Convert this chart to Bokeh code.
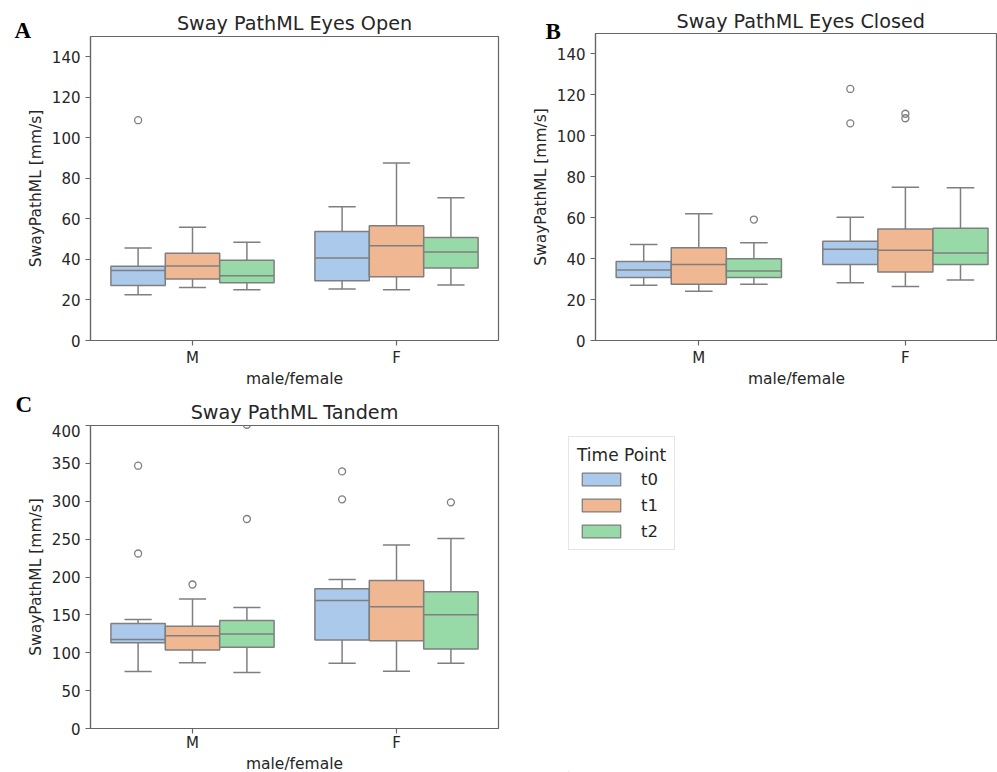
from bokeh.plotting import figure
from bokeh.models import (ColumnDataSource, Range1d, FixedTicker, Label, Legend,
                          LegendItem, Title)
from bokeh.transform import dodge
from bokeh.layouts import column, row
from bokeh.embed import file_html
from bokeh.resources import INLINE

# ---------------- data ----------------
sexes = ["M", "F"]
time_points = ["t0", "t1", "t2"]
colors = ["#abc9ea", "#efb792", "#98daa7"]

# Eyes Open: per time point -> [M, F]
open_low = [[22.6, 25.4], [26.2, 25.1], [25.1, 27.4]]
open_q1 = [[27.1, 29.5], [30.3, 31.5], [28.5, 35.8]]
open_med = [[34.5, 40.7], [36.8, 46.8], [32.0, 43.7]]
open_q3 = [[36.6, 53.8], [43.0, 56.6], [39.6, 50.8]]
open_high = [[45.7, 66.0], [55.9, 87.6], [48.5, 70.4]]
open_out_sex = ["M"]
open_out_tp = ["t0"]
open_out_val = [108.7]

# Eyes Closed
closed_low = [[27.0, 28.2], [24.1, 26.4], [27.5, 29.5]]
closed_q1 = [[30.8, 37.1], [27.5, 33.5], [30.8, 37.1]]
closed_med = [[34.4, 44.6], [37.1, 44.1], [34.0, 42.8]]
closed_q3 = [[38.6, 48.5], [45.3, 54.5], [39.9, 54.9]]
closed_high = [[46.9, 60.2], [61.9, 74.9], [47.7, 74.6]]
closed_out_sex = ["M", "F", "F", "F", "F"]
closed_out_tp = ["t2", "t0", "t0", "t1", "t1"]
closed_out_val = [59.1, 122.9, 106.1, 110.8, 108.6]

# Tandem
tandem_low = [[75.1, 86.1], [86.9, 75.5], [73.8, 86.1]]
tandem_q1 = [[113.3, 116.8], [103.5, 115.9], [107.1, 104.9]]
tandem_med = [[117.6, 169.0], [122.5, 160.7], [124.6, 150.2]]
tandem_q3 = [[138.7, 184.4], [135.1, 195.4], [142.6, 180.5]]
tandem_high = [[144.0, 196.7], [170.8, 242.4], [159.8, 250.7]]
tandem_out_sex = ["M", "M", "M", "M", "M", "F", "F", "F"]
tandem_out_tp = ["t0", "t0", "t1", "t2", "t2", "t0", "t0", "t2"]
tandem_out_val = [346.9, 231.0, 190.1, 276.6, 401.0, 339.4, 302.5, 298.6]

open_ticks = [0, 20, 40, 60, 80, 100, 120, 140]
closed_ticks = [0, 20, 40, 60, 80, 100, 120, 140]
tandem_ticks = [0, 50, 100, 150, 200, 250, 300, 350, 400]

titles = ["Sway PathML Eyes Open", "Sway PathML Eyes Closed", "Sway PathML Tandem"]
letters = ["A", "B", "C"]
x_label = "male/female"
y_label = "SwayPathML [mm/s]"

# ---------------- style ----------------
FONT = "DejaVu Sans"
LETTER_FONT = "Liberation Serif"
TEXT = "#262626"
SPINE = "#666666"
LINE = "#7f7f7f"
LW = 1.5
TITLE_SIZE = "19.2px"
BOX_W = 0.8 / len(time_points)


def blank(width, height):
    s = figure(width=width, height=height, x_range=Range1d(0, width),
               y_range=Range1d(0, height), output_backend="svg", toolbar_location=None,
               x_axis_type=None, y_axis_type=None, min_border=0, min_border_left=0,
               min_border_right=0, min_border_top=0, min_border_bottom=0,
               title_location=None)
    s.frame_align = False
    s.outline_line_color = None
    return s


def make_panel(width, height, borders, x_end, y_end, ticks,
               low, q1, med, q3, high, out_sex, out_tp, out_val, with_xlabel=True):
    bl, br, bt, bb = borders
    p = figure(width=width, height=height, x_range=Range1d(-0.5, x_end),
               y_range=Range1d(0, y_end), output_backend="svg", toolbar_location=None,
               min_border_left=bl, min_border_right=br, min_border_top=bt,
               min_border_bottom=bb, background_fill_color="white",
               border_fill_color="white", title_location=None)
    p.frame_align = False
    p.xgrid.visible = False
    p.ygrid.visible = False
    p.outline_line_color = SPINE
    p.outline_line_width = 1.2

    p.xaxis.ticker = FixedTicker(ticks=list(range(len(sexes))))
    p.xaxis.major_label_overrides = {i: s for i, s in enumerate(sexes)}
    p.yaxis.ticker = FixedTicker(ticks=ticks)
    if with_xlabel:
        p.xaxis.axis_label = x_label
    p.yaxis.axis_label = y_label
    for ax in (p.xaxis, p.yaxis):
        ax.axis_line_color = SPINE
        ax.axis_line_width = 1.2
        ax.major_tick_line_color = SPINE
        ax.major_tick_line_width = 1.2
        ax.major_tick_in = 0
        ax.major_tick_out = 5
        ax.minor_tick_line_color = None
        ax.major_label_text_font = FONT
        ax.major_label_text_font_size = "15px"
        ax.major_label_text_color = TEXT
        ax.axis_label_text_font = FONT
        ax.axis_label_text_font_size = "15.5px"
        ax.axis_label_text_font_style = "normal"
        ax.axis_label_text_color = TEXT
    p.xaxis.major_label_standoff = 3 if with_xlabel else 0
    p.xaxis.axis_label_standoff = 0
    p.yaxis.major_label_standoff = 5
    p.yaxis.axis_label_standoff = 4

    xs = list(range(len(sexes)))
    for j, tp in enumerate(time_points):
        off = (j - (len(time_points) - 1) / 2) * BOX_W
        src = ColumnDataSource(dict(x=xs, low=low[j], q1=q1[j], med=med[j],
                                    q3=q3[j], high=high[j]))
        xc = dodge("x", off, range=p.x_range)
        # whiskers
        p.segment(x0=xc, y0="low", x1=xc, y1="q1", source=src,
                  line_color=LINE, line_width=LW)
        p.segment(x0=xc, y0="q3", x1=xc, y1="high", source=src,
                  line_color=LINE, line_width=LW)
        # caps
        for key in ("low", "high"):
            p.segment(x0=dodge("x", off - BOX_W / 4, range=p.x_range), y0=key,
                      x1=dodge("x", off + BOX_W / 4, range=p.x_range), y1=key,
                      source=src, line_color=LINE, line_width=LW)
        # boxes
        p.vbar(x=xc, width=BOX_W, bottom="q1", top="q3", source=src,
               fill_color=colors[j], line_color=LINE, line_width=LW)
        # medians
        p.segment(x0=dodge("x", off - BOX_W / 2, range=p.x_range), y0="med",
                  x1=dodge("x", off + BOX_W / 2, range=p.x_range), y1="med",
                  source=src, line_color=LINE, line_width=LW)
        # outliers
        ox = [sexes.index(s) for s, t in zip(out_sex, out_tp) if t == tp]
        oy = [v for v, t in zip(out_val, out_tp) if t == tp]
        if ox:
            osrc = ColumnDataSource(dict(x=ox, y=oy))
            p.scatter(x=dodge("x", off, range=p.x_range), y="y", source=osrc,
                      marker="circle", size=7, fill_color=None,
                      line_color=LINE, line_width=1.3)
    return p


def add_titles(p, title, letter, letter_offset, letter_standoff, title_standoff,
               title_align="center", title_offset=0):
    # the panel letter sits next to the frame, the title is stacked above it
    p.add_layout(Title(text=letter, align="left", offset=letter_offset,
                       vertical_align="bottom", standoff=letter_standoff,
                       text_font=LETTER_FONT, text_font_style="bold",
                       text_font_size="23px", text_color="black"), "above")
    p.add_layout(Title(text=title, align=title_align, offset=title_offset,
                       vertical_align="bottom", standoff=title_standoff,
                       text_font=FONT, text_font_style="normal",
                       text_font_size=TITLE_SIZE, text_color=TEXT), "above")


# panel A
pA = make_panel(527, 390, (90, 29, 36, 50), 1.5, 150, open_ticks,
                open_low, open_q1, open_med, open_q3, open_high,
                open_out_sex, open_out_tp, open_out_val)
add_titles(pA, titles[0], letters[0], -76, -12, -26)

# panel B (its right edge is cut by the picture border)
pB = make_panel(470, 390, (68, 0, 33, 48), 1.4458, 150, closed_ticks,
                closed_low, closed_q1, closed_med, closed_q3, closed_high,
                closed_out_sex, closed_out_tp, closed_out_val)
add_titles(pB, titles[1], letters[1], -50, -20, -12.6, "left", 81)

# panel C (title strip above, x label strip below)
sC = blank(527, 34)
sC.add_layout(Label(x=294, y=11.7, text=titles[2], text_align="center",
                    text_baseline="alphabetic", text_font=FONT,
                    text_font_size=TITLE_SIZE, text_color=TEXT))
sC.add_layout(Label(x=15, y=20, text=letters[2], text_align="left",
                    text_baseline="alphabetic", text_font=LETTER_FONT,
                    text_font_style="bold", text_font_size="23px",
                    text_color="black"))
pC = make_panel(527, 330, (90, 29, 1, 25), 1.5, 400, tandem_ticks,
                tandem_low, tandem_q1, tandem_med, tandem_q3, tandem_high,
                tandem_out_sex, tandem_out_tp, tandem_out_val, with_xlabel=False)
bC = blank(527, 18)
bC.add_layout(Label(x=294, y=8.7, text=x_label, text_align="center",
                    text_baseline="alphabetic", text_font=FONT,
                    text_font_size="15.5px", text_color=TEXT))

# legend panel
pL = figure(width=470, height=382, x_range=Range1d(0, 1), y_range=Range1d(0, 1),
            output_backend="svg", toolbar_location=None, x_axis_type=None,
            y_axis_type=None, min_border=0, min_border_left=41, min_border_right=0,
            min_border_top=46, min_border_bottom=0, title_location=None)
pL.frame_align = False
pL.outline_line_color = None
items = []
for j, tp in enumerate(time_points):
    r = pL.vbar(x=[-5], bottom=[-6], top=[-5], width=0.1, fill_color=colors[j],
                line_color=LINE, line_width=1.3)
    items.append(LegendItem(label=tp, renderers=[r]))
legend = Legend(items=items, location="top_left", title="Time Point",
                title_text_font=FONT, title_text_font_size="17px",
                title_text_font_style="normal", title_text_color=TEXT,
                label_text_font=FONT, label_text_font_size="16.5px",
                label_text_color=TEXT, glyph_width=48, glyph_height=16,
                label_standoff=16, label_height=20, spacing=6, padding=8, margin=0,
                title_standoff=4, border_line_color="#cccccc", border_line_width=1.2,
                background_fill_color="white", background_fill_alpha=1.0)
pL.add_layout(legend)

layout = column(row(pA, pB), row(column(sC, pC, bC), pL))
open("out.html", "w").write(file_html(layout, INLINE))
